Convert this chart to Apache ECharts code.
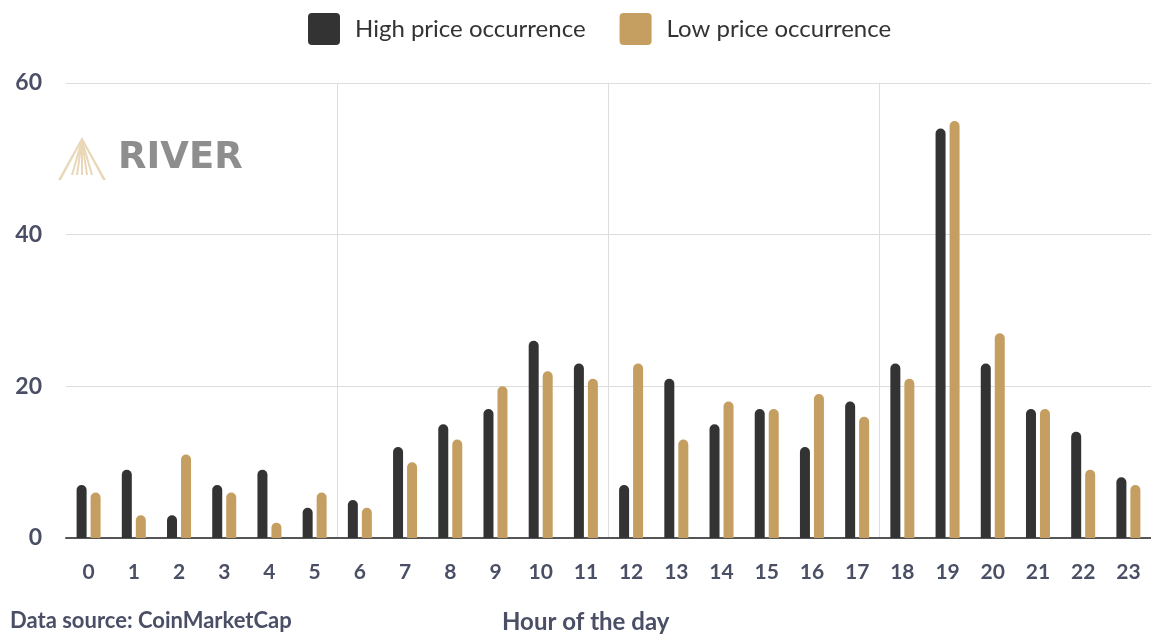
<!DOCTYPE html>
<html>
<head>
<meta charset="utf-8">
<script src="https://cdn.jsdelivr.net/npm/echarts@6/dist/echarts.min.js"></script>
<style>
html,body{margin:0;padding:0;background:#fff;}
#chart{width:1151px;height:638px;}
</style>
</head>
<body>
<div id="chart"></div>
<script>
const hours = ['0','1','2','3','4','5','6','7','8','9','10','11','12','13','14','15','16','17','18','19','20','21','22','23'];
const highPrice = [7, 9, 3, 7, 9, 4, 5, 12, 15, 17, 26, 23, 7, 21, 15, 17, 12, 18, 23, 54, 23, 17, 14, 8];
const lowPrice  = [6, 3, 11, 6, 2, 6, 4, 10, 13, 20, 22, 21, 23, 13, 18, 17, 19, 16, 21, 55, 27, 17, 9, 7];
const yTicks = [0, 20, 40, 60];

const FONT = 'Lato, "Noto Sans", sans-serif';
const DARK = '#333333';
const GOLD = '#c59f61';
const LABEL = '#4a4f66';

const chart = echarts.init(document.getElementById('chart'));
chart.setOption({
  backgroundColor: '#ffffff',
  animation: false,
  textStyle: { fontFamily: FONT },
  legend: {
    left: 303, top: 8,
    itemWidth: 32, itemHeight: 32, itemGap: 34,
    icon: 'path://M4,0 H28 A4,4 0 0 1 32,4 V28 A4,4 0 0 1 28,32 H4 A4,4 0 0 1 0,28 V4 A4,4 0 0 1 4,0 Z',
    textStyle: { fontSize: 24, color: '#333', fontFamily: FONT, padding: [0, 0, 0, 10] },
    data: ['High price occurrence', 'Low price occurrence']
  },
  grid: { left: 66, top: 83, width: 1090, height: 455 },
  xAxis: {
    type: 'category',
    data: hours,
    boundaryGap: true,
    axisLine: { lineStyle: { color: '#555', width: 2 } },
    axisTick: { show: false },
    axisLabel: { fontSize: 21, color: LABEL, fontWeight: 'bold', margin: 24, fontFamily: FONT },
    splitLine: {
      show: true,
      interval: function (i) { return i > 0 && i % 6 === 0; },
      lineStyle: { color: '#dddddd', width: 1 }
    }
  },
  yAxis: {
    type: 'value',
    min: yTicks[0], max: yTicks[yTicks.length - 1], interval: 20,
    axisLine: { show: false },
    axisTick: { show: false },
    axisLabel: { fontSize: 23, color: LABEL, fontWeight: 'bold', margin: 24, fontFamily: FONT },
    splitLine: { lineStyle: { color: '#dddddd', width: 1 } }
  },
  series: [
    {
      name: 'High price occurrence', type: 'bar', data: highPrice,
      barWidth: 10, barGap: '40%',
      itemStyle: { color: DARK, borderRadius: [5, 5, 0, 0] }
    },
    {
      name: 'Low price occurrence', type: 'bar', data: lowPrice,
      barWidth: 10, barGap: '40%',
      itemStyle: { color: GOLD, borderRadius: [5, 5, 0, 0] }
    }
  ],
  graphic: [
    { type: 'group', left: 58, top: 137, z: 0, children: [
      { type: 'polygon', shape: { points: [[24,0],[0,43],[3,43],[24,4]] }, style: { fill: '#e8d8b8' } },
      { type: 'polygon', shape: { points: [[24,0],[48,43],[45,43],[24,4]] }, style: { fill: '#e8d8b8' } },
      { type: 'line', shape: { x1: 24, y1: 3, x2: 14, y2: 38 }, style: { stroke: '#e8d8b8', lineWidth: 2 } },
      { type: 'line', shape: { x1: 24, y1: 3, x2: 19, y2: 38 }, style: { stroke: '#e8d8b8', lineWidth: 2 } },
      { type: 'line', shape: { x1: 24, y1: 3, x2: 24, y2: 38 }, style: { stroke: '#e8d8b8', lineWidth: 2 } },
      { type: 'line', shape: { x1: 24, y1: 3, x2: 29, y2: 38 }, style: { stroke: '#e8d8b8', lineWidth: 2 } },
      { type: 'line', shape: { x1: 24, y1: 3, x2: 34, y2: 38 }, style: { stroke: '#e8d8b8', lineWidth: 2 } }
    ]},
    { type: 'text', left: 118, top: 140, z: 0,
      style: { text: 'RIVER', fontSize: 37, fontWeight: 'bold', fill: '#8e8e8e', fontFamily: '"DejaVu Sans", sans-serif' } },
    { type: 'text', left: 10, top: 610,
      style: { text: 'Data source: CoinMarketCap', fontSize: 22, fontWeight: 'bold', fill: LABEL, fontFamily: FONT } },
    { type: 'text', left: 502, top: 610,
      style: { text: 'Hour of the day', fontSize: 24, fontWeight: 'bold', fill: LABEL, fontFamily: FONT } }
  ]
});
</script>
</body>
</html>
